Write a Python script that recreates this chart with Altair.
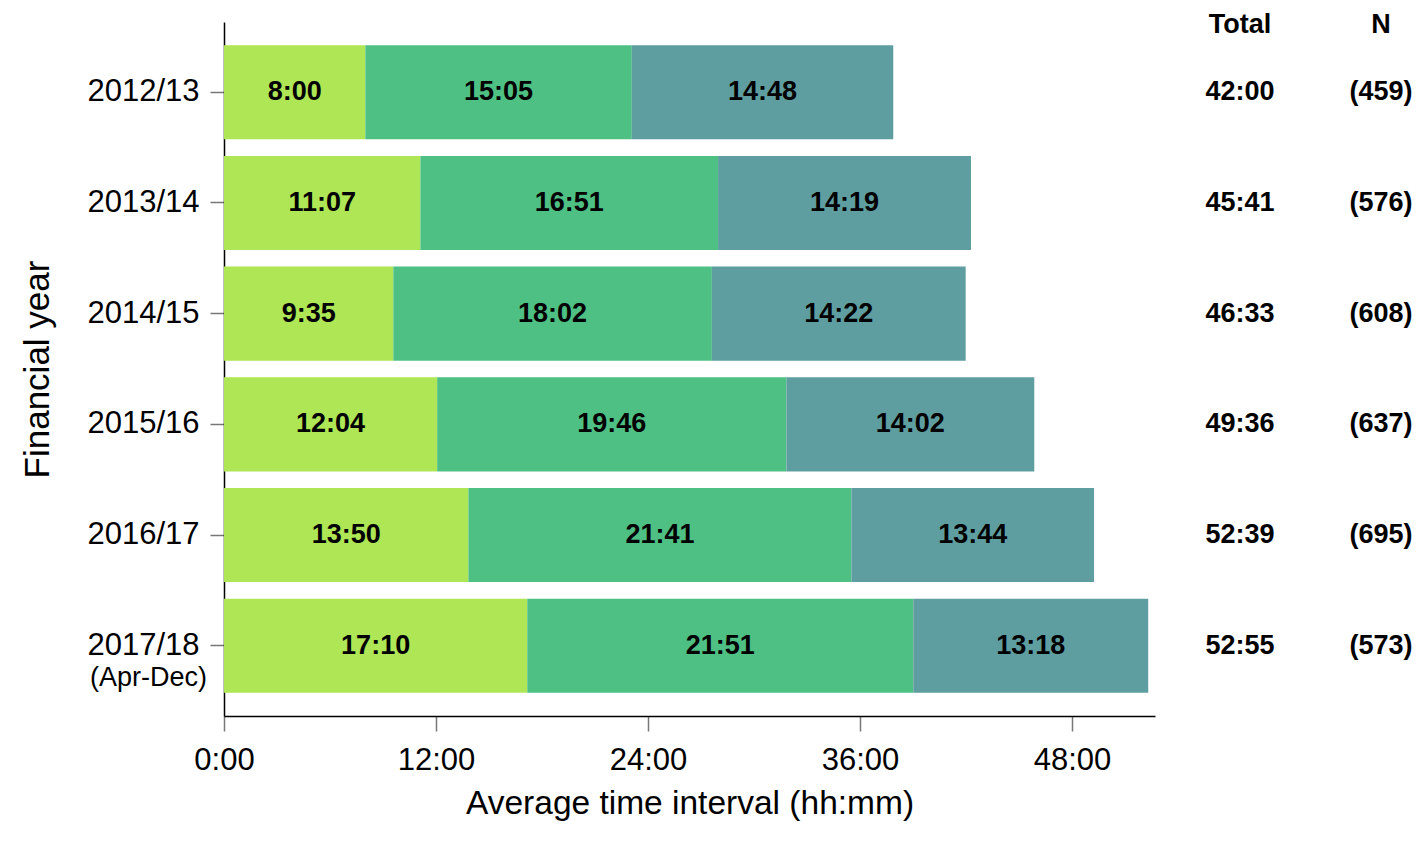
import altair as alt
import pandas as pd

years = ["2012/13", "2013/14", "2014/15", "2015/16", "2016/17", "2017/18"]
seg1 = ["8:00", "11:07", "9:35", "12:04", "13:50", "17:10"]
seg2 = ["15:05", "16:51", "18:02", "19:46", "21:41", "21:51"]
seg3 = ["14:48", "14:19", "14:22", "14:02", "13:44", "13:18"]
totals = ["42:00", "45:41", "46:33", "49:36", "52:39", "52:55"]
ns = ["(459)", "(576)", "(608)", "(637)", "(695)", "(573)"]
segments = ["A", "B", "C"]
colors = ["#AEE655", "#4EC084", "#5F9EA0"]
x_ticks = [0, 12, 24, 36, 48]


def hrs(s):
    h, m = s.split(":")
    return int(h) + int(m) / 60.0


rows = []
for i, y in enumerate(years):
    start = 0.0
    for seg, vals in zip(segments, [seg1, seg2, seg3]):
        v = hrs(vals[i])
        rows.append({"year": y, "seg": seg, "start": start, "end": start + v,
                     "mid": start + v / 2, "label": vals[i]})
        start += v
df = pd.DataFrame(rows)
side = pd.DataFrame({"year": years, "total": totals, "n": ns})
hdr = pd.DataFrame({"h": ["Total", "N"], "px": [1016, 1157]})
note = pd.DataFrame({"year": ["2017/18"], "t": ["(Apr-Dec)"]})

FONT = "Liberation Sans"

ysc = alt.Scale(domain=years, paddingInner=0.15, paddingOuter=0.21)
xsc = alt.Scale(domain=[0, 52.7], nice=False, zero=True)

base = alt.Chart(df)

bars = base.mark_bar().encode(
    y=alt.Y("year:N", scale=ysc, sort=years,
            axis=alt.Axis(title="Financial year", labelFontSize=31, labelFont=FONT,
                          titleFontSize=35, titleFont=FONT, titleFontWeight="normal",
                          labelColor="black", titleColor="black",
                          domainColor="black", domainWidth=1.5, tickColor="#777777",
                          tickSize=14, tickWidth=1.5, labelPadding=11, titlePadding=31,
                          grid=False)),
    x=alt.X("start:Q", scale=xsc,
            axis=alt.Axis(title="Average time interval (hh:mm)", values=x_ticks,
                          labelExpr="datum.value + ':00'",
                          labelFontSize=31, labelFont=FONT, labelColor="black",
                          titleFontSize=33.5, titleFont=FONT, titleFontWeight="normal",
                          titleColor="black", domainColor="black", domainWidth=1.5,
                          tickColor="#777777", tickSize=15, tickWidth=1.5,
                          labelPadding=14, titlePadding=12, grid=False,
                          labelFlush=False)),
    x2="end:Q",
    color=alt.Color("seg:N", scale=alt.Scale(domain=segments, range=colors), legend=None),
)

labels = base.mark_text(font=FONT, fontSize=27, fontWeight="bold", color="black",
                        baseline="middle", align="center").encode(
    y=alt.Y("year:N", scale=ysc, sort=years),
    x=alt.X("mid:Q", scale=xsc),
    text="label:N",
)

tot = alt.Chart(side).mark_text(font=FONT, fontSize=27, fontWeight="bold", color="black",
                                baseline="middle", align="center").encode(
    y=alt.Y("year:N", scale=ysc, sort=years),
    x=alt.value(1016),
    text="total:N",
)
ncol = alt.Chart(side).mark_text(font=FONT, fontSize=27, fontWeight="bold", color="black",
                                 baseline="middle", align="center").encode(
    y=alt.Y("year:N", scale=ysc, sort=years),
    x=alt.value(1157),
    text="n:N",
)
heads = alt.Chart(hdr).mark_text(font=FONT, fontSize=27, fontWeight="bold", color="black",
                                 baseline="middle", align="center").encode(
    x=alt.X("px:Q", scale=None),
    y=alt.value(3),
    text="h:N",
)
apr = alt.Chart(note).mark_text(font=FONT, fontSize=27, color="black",
                                baseline="middle", align="right", dy=32).encode(
    y=alt.Y("year:N", scale=ysc, sort=years),
    x=alt.value(-17),
    text="t:N",
)

chart = alt.layer(bars, labels, tot, ncol, heads, apr).properties(
    width=931, height=694,
    autosize=alt.AutoSizeParams(type="none"),
    padding={"left": 216, "top": 14, "right": 259, "bottom": 105},
).configure_view(stroke=None)

chart.save("out.html", embed_options={"renderer": "svg", "actions": False})
